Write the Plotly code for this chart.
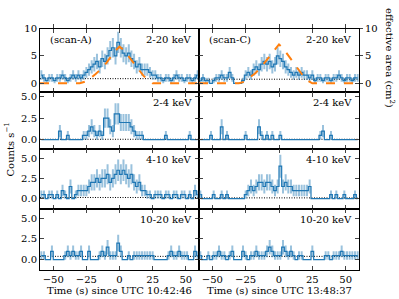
import numpy as np
import plotly.graph_objects as go

# ---------------- data (rates in counts/s, 2 s bins from -60 to 60 s) ----------------
bin_width = 2.0
bin_edges = np.arange(-60, 60 + bin_width, bin_width)
t_centers = (bin_edges[:-1] + bin_edges[1:]) / 2

a_2_20 = [1.5, 1, 0.5, 1, 1, 0.5, 1, 1, 1.5, 1, 0.5, 1, 1.5, 1, 1.5, 1,
          1.5, 2, 2.5, 3,
          3.5, 4, 3, 4.5, 4,
          5, 6, 6.5, 5, 7.5,
          6.5, 5.5, 5, 5.5, 4.5,
          4, 3, 3.5, 2.5, 2.5,
          2.5, 2, 1.5, 1.5, 1,
          1, 0.5, 1, 1, 0.5, 1, 1.5, 1, 1, 0.5, 1, 1, 0.5, 1, 1.5]
c_2_20 = [0.5, 1, 0.5, 0.5, 0, 0.5,
          1, 1, 1.5, 1, 1, 2, 1,
          0, 0, 0, 0.5,
          1.5, 2, 1.5, 2.5,
          3, 2.5, 3.5, 4,
          3.5, 4, 3, 3.5, 5,
          4.5, 4, 3, 2.5, 2,
          1.5, 2, 1.5, 2, 1.5,
          1.5, 1, 1.5, 0.5, 1,
          1, 0.5, 1, 1, 0.5, 1, 1, 1.5, 1, 0.5, 1, 1, 0.5, 1, 1]
a_2_4 = [0, 0, 0, 0, 0, 0, 0, 1.0, 0, 0, 0.5, 0, 0, 0, 0, 0,
         0.5, 0.5, 1.0, 1.5, 1.0, 0.5, 1.0, 0.5,
         2.5, 2.5, 1.5, 1.0,
         3.0, 3.0, 2.0, 2.0, 2.0, 2.0, 1.5, 1.0,
         0.5, 0.5, 0.5, 0,
         0, 0, 0, 0, 0, 0, 0, 0.5,
         0, 0, 0, 0, 0, 0, 0, 0, 0.5, 0, 0, 0]
c_2_4 = [0, 0, 0, 0, 0.5, 0, 0, 0, 1.5, 0, 0.5, 0, 0, 0, 0, 0,
         0, 0.5, 0, 0, 0, 0, 1.5, 0.5, 0, 0.5, 0, 0.5, 0, 0,
         0.5, 0, 0, 0, 0, 0, 0, 0, 0, 0, 0, 0, 0, 0, 0, 0.5,
         1.0, 0, 0, 0.5, 0, 0, 0, 0, 0, 0, 0, 0, 0, 0]
a_4_10 = [0.5, 0.5, 0, 0.5, 0.5, 0, 0.5, 0,
          1.0, 0.5, 0, 1.5, 0, 0.5,
          1.0, 1.0, 1.0, 1.0, 1.5,
          2.0, 2.0, 2.5, 2.0, 2.5,
          2.5, 3.0, 2.0, 2.5, 3.0,
          3.5, 3.0, 3.5, 3.0, 2.5,
          3.0, 2.0, 1.5, 2.0, 1.0,
          1.0, 0.5, 0.5, 0, 0.5, 0.5, 0.5, 0, 0.5, 0.5, 0, 0.5, 0.5, 0, 0.5, 0.5,
          0, 0.5, 0, 1.0, 0.5]
c_4_10 = [0.5, 0, 0, 0, 0, 0.5, 0, 0, 0.5, 0, 0.5, 0, 0, 0, 0, 0, 0,
          0.5, 1.0, 1.5, 1.0, 1.5, 2.0, 2.0, 1.5, 2.0, 2.0, 1.5, 1.0, 1.5,
          4.0, 1.5, 2.0, 1.5, 1.5, 1.0, 1.0, 1.0, 1.0, 1.0, 1.0, 1.5,
          0, 0, 0, 0, 0, 0, 0, 0.5, 0, 0.5, 0, 0, 0.5, 0, 0, 0, 0.5, 0]
a_10_20 = [0.5, 0.5, 0, 0, 1.0,
           0, 0, 0, 0, 0.5,
           1.0, 0.5, 1.0, 0.5, 0.5, 1.0,
           0, 0, 1.0, 0,
           0, 0, 0.5, 1.0, 0.5,
           1.5, 0.5, 0.5, 0.5,
           2.0, 1.0, 0,
           0, 0.5, 0, 0.5,
           0.5, 0.5, 0.5, 0.5, 0.5, 0.5, 0.5,
           0, 0, 0, 0, 0,
           0.5, 1.0, 0.5, 0.5, 1.0, 0.5,
           0.5, 0.5, 0, 0, 1.0, 0.5]
c_10_20 = [0.5, 0, 0, 0.5, 0, 0.5, 0.5, 1.0, 0.5, 0.5, 0, 0.5, 1.0, 0, 0, 0,
           1.0, 0.5, 0, 0.5, 0.5, 1.0, 0.5, 0.5, 0.5, 1.0, 1.5, 1.0, 0.5, 0.5,
           0.5, 1.5, 1.0, 0.5, 1.0, 0.5, 0, 0.5, 0.5, 0, 0, 0, 1.0, 0, 0,
           0, 0, 0.5, 0.5, 0, 0.5, 0.5, 0.5, 1.0, 0.5, 0.5, 0.5, 0.5, 0.5, 0.5]

background_a = [0.85, 0.05, 0.15, 0.4]
background_c = [0.75, 0.05, 0.1, 0.4]

# effective area curves (cm^2)
ea_t = [-60, -30, -26, -22, -18, -14, -10, -6, -3, 0, 3, 6, 10, 14, 18, 22, 25, 60]
ea_a = [0, 0, 0.3, 0.9, 1.7, 2.6, 3.7, 5.0, 6.0, 6.7, 6.1, 5.2, 3.9, 2.5, 1.4, 0.5, 0, 0]
ea_c = [0, 0, 0.3, 1.0, 1.8, 2.8, 4.0, 5.3, 6.3, 7.1, 6.4, 5.4, 4.0, 2.6, 1.4, 0.4, 0, 0]

band_labels = ["2-20 keV", "2-4 keV", "4-10 keV", "10-20 keV"]
scan_labels = ["(scan-A)", "(scan-C)"]
x_ticks = [-50, -25, 0, 25, 50]
x_title_a = "Time (s) since UTC 10:42:46"
x_title_c = "Time (s) since UTC 13:48:37"

series = [[a_2_20, c_2_20], [a_2_4, c_2_4], [a_4_10, c_4_10], [a_10_20, c_10_20]]
backgrounds = [background_a, background_c]

# ---------------- layout geometry ----------------
W, H = 399, 299
col_px = [(40, 199), (199, 359)]
row_px = [(24, 88), (88, 146), (146, 207), (207, 269)]
y_ranges = [[-1.5, 10], [-1.03, 5.6], [-1.21, 6.17], [-1.18, 6.15]]

FONT = "DejaVu Serif"
BLUE = "#1f77b4"
ORANGE = "#ff7f0e"

fig = go.Figure()
layout = dict(
    width=W, height=H,
    margin=dict(l=0, r=0, t=0, b=0),
    paper_bgcolor="white", plot_bgcolor="white",
    showlegend=False,
    font=dict(family=FONT, size=10, color="black"),
)
annotations = []

for r in range(4):
    for c in range(2):
        p = r * 2 + c + 1
        xn = "x" if p == 1 else f"x{p}"
        yn = "y" if p == 1 else f"y{p}"
        xk = "xaxis" if p == 1 else f"xaxis{p}"
        yk = "yaxis" if p == 1 else f"yaxis{p}"
        x0, x1 = col_px[c]
        y0, y1 = row_px[r]
        layout[xk] = dict(
            domain=[x0 / W, x1 / W], anchor=yn, range=[-60, 60],
            tickvals=x_ticks, ticks="inside", ticklen=4, tickwidth=1,
            mirror="allticks", showline=True, linecolor="black", linewidth=1,
            showgrid=False, zeroline=False, showticklabels=(r == 3),
            tickfont=dict(family=FONT, size=10),
        )
        if r == 0:
            tv, tt = [0, 5, 10], ["0", "5", "10"]
        else:
            tv, tt = [0, 2.5, 5.0], ["0.0", "2.5", "5.0"]
        layout[yk] = dict(
            domain=[1 - y1 / H, 1 - y0 / H], anchor=xn, range=y_ranges[r],
            tickvals=tv, ticktext=tt, ticks="inside", ticklen=4, tickwidth=1,
            mirror="allticks", showline=True, linecolor="black", linewidth=1,
            showgrid=False, zeroline=False, showticklabels=(c == 0),
            tickfont=dict(family=FONT, size=10),
        )

        vals = np.array(series[r][c], dtype=float)
        errs = np.sqrt(vals * bin_width) / bin_width
        bg = backgrounds[c][r]

        fig.add_trace(go.Scatter(
            x=[-60, 60], y=[bg, bg], xaxis=xn, yaxis=yn, mode="lines",
            line=dict(color="black", width=1, dash="1px,1.5px"), hoverinfo="skip"))
        fig.add_trace(go.Scatter(
            x=t_centers, y=vals, xaxis=xn, yaxis=yn, mode="lines",
            line=dict(color=BLUE, width=1.2, shape="hvh"),
            error_y=dict(type="data", array=errs, visible=True,
                         color="rgba(31,119,180,0.45)", thickness=2, width=0)))

        # band label, top right
        annotations.append(dict(
            text=band_labels[r], xref="paper", yref="paper",
            x=(x1 - 5) / W, y=1 - (y0 + 11) / H, xanchor="right", yanchor="middle",
            showarrow=False, font=dict(family=FONT, size=10)))
        if r == 0:
            annotations.append(dict(
                text=scan_labels[c], xref="paper", yref="paper",
                x=(x0 + 8) / W, y=1 - (y0 + 11) / H, xanchor="left", yanchor="middle",
                showarrow=False, font=dict(family=FONT, size=10)))

# effective-area axis (right side of the top-right panel)
layout["yaxis9"] = dict(
    overlaying="y2", side="right", anchor="x2", range=y_ranges[0],
    tickvals=[0, 5, 10], ticktext=["0", "5", "10"], ticks="outside", ticklen=3,
    showline=False, showgrid=False, zeroline=False,
    tickfont=dict(family=FONT, size=10),
)
layout["yaxis10"] = dict(
    overlaying="y", side="left", anchor="x", range=y_ranges[0],
    showticklabels=False, ticks="", showline=False, showgrid=False, zeroline=False,
)
fig.add_trace(go.Scatter(x=ea_t, y=ea_a, xaxis="x", yaxis="y10", mode="lines",
                         line=dict(color=ORANGE, width=2, dash="dash")))
fig.add_trace(go.Scatter(x=ea_t, y=ea_c, xaxis="x2", yaxis="y9", mode="lines",
                         line=dict(color=ORANGE, width=2, dash="dash")))

# axis titles
annotations.append(dict(text="Counts s<sup>−1</sup>", xref="paper", yref="paper",
                        x=9 / W, y=1 - 147 / H, textangle=-90, showarrow=False,
                        xanchor="center", yanchor="middle", font=dict(family=FONT, size=10)))
annotations.append(dict(text="effective area (cm<sup>2</sup>)", xref="paper", yref="paper",
                        x=390 / W, y=1 - 54 / H, textangle=90, showarrow=False,
                        xanchor="center", yanchor="middle", font=dict(family=FONT, size=10)))
annotations.append(dict(text=x_title_a, xref="paper", yref="paper",
                        x=119.5 / W, y=1 - 290 / H, showarrow=False,
                        xanchor="center", yanchor="middle", font=dict(family=FONT, size=10)))
annotations.append(dict(text=x_title_c, xref="paper", yref="paper",
                        x=279 / W, y=1 - 290 / H, showarrow=False,
                        xanchor="center", yanchor="middle", font=dict(family=FONT, size=10)))

layout["annotations"] = annotations
fig.update_layout(**layout)
fig.write_html("out.html",
               config={"displayModeBar": False},
               post_script="document.body.style.margin='0';document.body.style.padding='0';")
